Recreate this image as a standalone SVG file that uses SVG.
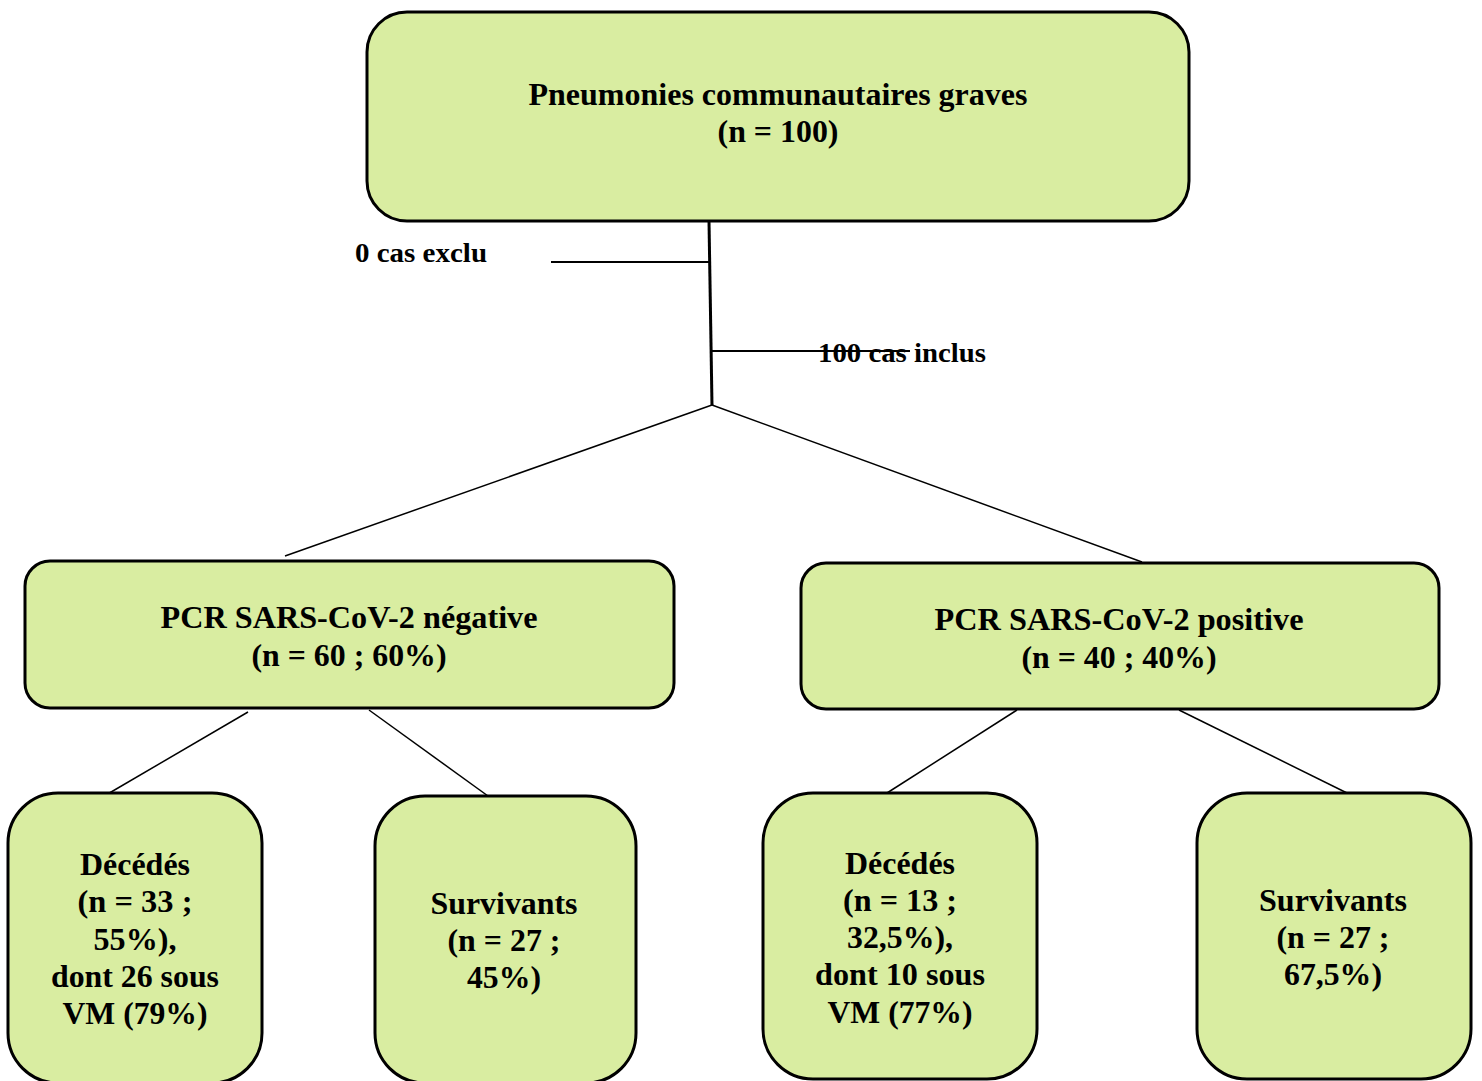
<svg xmlns="http://www.w3.org/2000/svg" width="1482" height="1081" viewBox="0 0 1482 1081">
<style>
.box{fill:#d9eda1;stroke:#000;stroke-width:3}
.t{font-family:"Liberation Serif","Times New Roman",serif;font-weight:bold;font-size:31px;fill:#000;text-anchor:middle}
.tl{font-family:"Liberation Serif","Times New Roman",serif;font-weight:bold;font-size:28px;fill:#000}
.c{stroke:#000;fill:none}
</style>
<rect width="1482" height="1081" fill="#fff"/>
<g id="connectors">
<line class="c" x1="709" y1="221" x2="712" y2="405" stroke-width="3"/>
<line class="c" x1="551" y1="262" x2="709" y2="262" stroke-width="2"/>
<line class="c" x1="711" y1="351" x2="910" y2="351" stroke-width="2"/>
<line class="c" x1="712" y1="405" x2="285" y2="556" stroke-width="1.5"/>
<line class="c" x1="712" y1="405" x2="1142" y2="562" stroke-width="1.5"/>
<line class="c" x1="248" y1="712" x2="106" y2="795" stroke-width="1.5"/>
<line class="c" x1="369" y1="710" x2="488" y2="796" stroke-width="1.5"/>
<line class="c" x1="1017" y1="710" x2="887" y2="793" stroke-width="1.5"/>
<line class="c" x1="1179" y1="710" x2="1347" y2="793" stroke-width="1.5"/>
</g>
<g id="label-exclu"><text class="tl" x="355" y="262" textLength="132" lengthAdjust="spacingAndGlyphs">0 cas exclu</text></g>
<g id="label-inclus"><text class="tl" x="818" y="362" textLength="168" lengthAdjust="spacingAndGlyphs">100 cas inclus</text></g>
<g id="root">
<rect class="box" x="367" y="12" width="822" height="209" rx="40"/>
<text class="t" x="778" y="105" textLength="499" lengthAdjust="spacingAndGlyphs">Pneumonies communautaires graves</text>
<text class="t" x="778" y="142" textLength="121" lengthAdjust="spacingAndGlyphs">(n = 100)</text>
</g>
<g id="neg">
<rect class="box" x="25" y="561" width="649" height="147" rx="25"/>
<text class="t" x="349" y="628" textLength="377" lengthAdjust="spacingAndGlyphs">PCR SARS-CoV-2 négative</text>
<text class="t" x="349" y="666" textLength="195" lengthAdjust="spacingAndGlyphs">(n = 60 ; 60%)</text>
</g>
<g id="pos">
<rect class="box" x="801" y="563" width="638" height="146" rx="25"/>
<text class="t" x="1119" y="630" textLength="369" lengthAdjust="spacingAndGlyphs">PCR SARS-CoV-2 positive</text>
<text class="t" x="1119" y="668" textLength="195" lengthAdjust="spacingAndGlyphs">(n = 40 ; 40%)</text>
</g>
<g id="neg-dead">
<rect class="box" x="8" y="793" width="254" height="290" rx="50"/>
<text class="t" x="135" y="875" textLength="110" lengthAdjust="spacingAndGlyphs">Décédés</text>
<text class="t" x="135" y="912" textLength="115" lengthAdjust="spacingAndGlyphs">(n = 33 ;</text>
<text class="t" x="135" y="950" textLength="83" lengthAdjust="spacingAndGlyphs">55%),</text>
<text class="t" x="135" y="987" textLength="168" lengthAdjust="spacingAndGlyphs">dont 26 sous</text>
<text class="t" x="135" y="1024" textLength="145" lengthAdjust="spacingAndGlyphs">VM (79%)</text>
</g>
<g id="neg-alive">
<rect class="box" x="375" y="796" width="261" height="287" rx="50"/>
<text class="t" x="504" y="914" textLength="147" lengthAdjust="spacingAndGlyphs">Survivants</text>
<text class="t" x="504" y="951" textLength="113" lengthAdjust="spacingAndGlyphs">(n = 27 ;</text>
<text class="t" x="504" y="988" textLength="74" lengthAdjust="spacingAndGlyphs">45%)</text>
</g>
<g id="pos-dead">
<rect class="box" x="763" y="793" width="274" height="286" rx="50"/>
<text class="t" x="900" y="874" textLength="110" lengthAdjust="spacingAndGlyphs">Décédés</text>
<text class="t" x="900" y="911" textLength="114" lengthAdjust="spacingAndGlyphs">(n = 13 ;</text>
<text class="t" x="900" y="948" textLength="106" lengthAdjust="spacingAndGlyphs">32,5%),</text>
<text class="t" x="900" y="985" textLength="170" lengthAdjust="spacingAndGlyphs">dont 10 sous</text>
<text class="t" x="900" y="1023" textLength="145" lengthAdjust="spacingAndGlyphs">VM (77%)</text>
</g>
<g id="pos-alive">
<rect class="box" x="1197" y="793" width="274" height="286" rx="50"/>
<text class="t" x="1333" y="911" textLength="148" lengthAdjust="spacingAndGlyphs">Survivants</text>
<text class="t" x="1333" y="948" textLength="113" lengthAdjust="spacingAndGlyphs">(n = 27 ;</text>
<text class="t" x="1333" y="985" textLength="98" lengthAdjust="spacingAndGlyphs">67,5%)</text>
</g>
</svg>
